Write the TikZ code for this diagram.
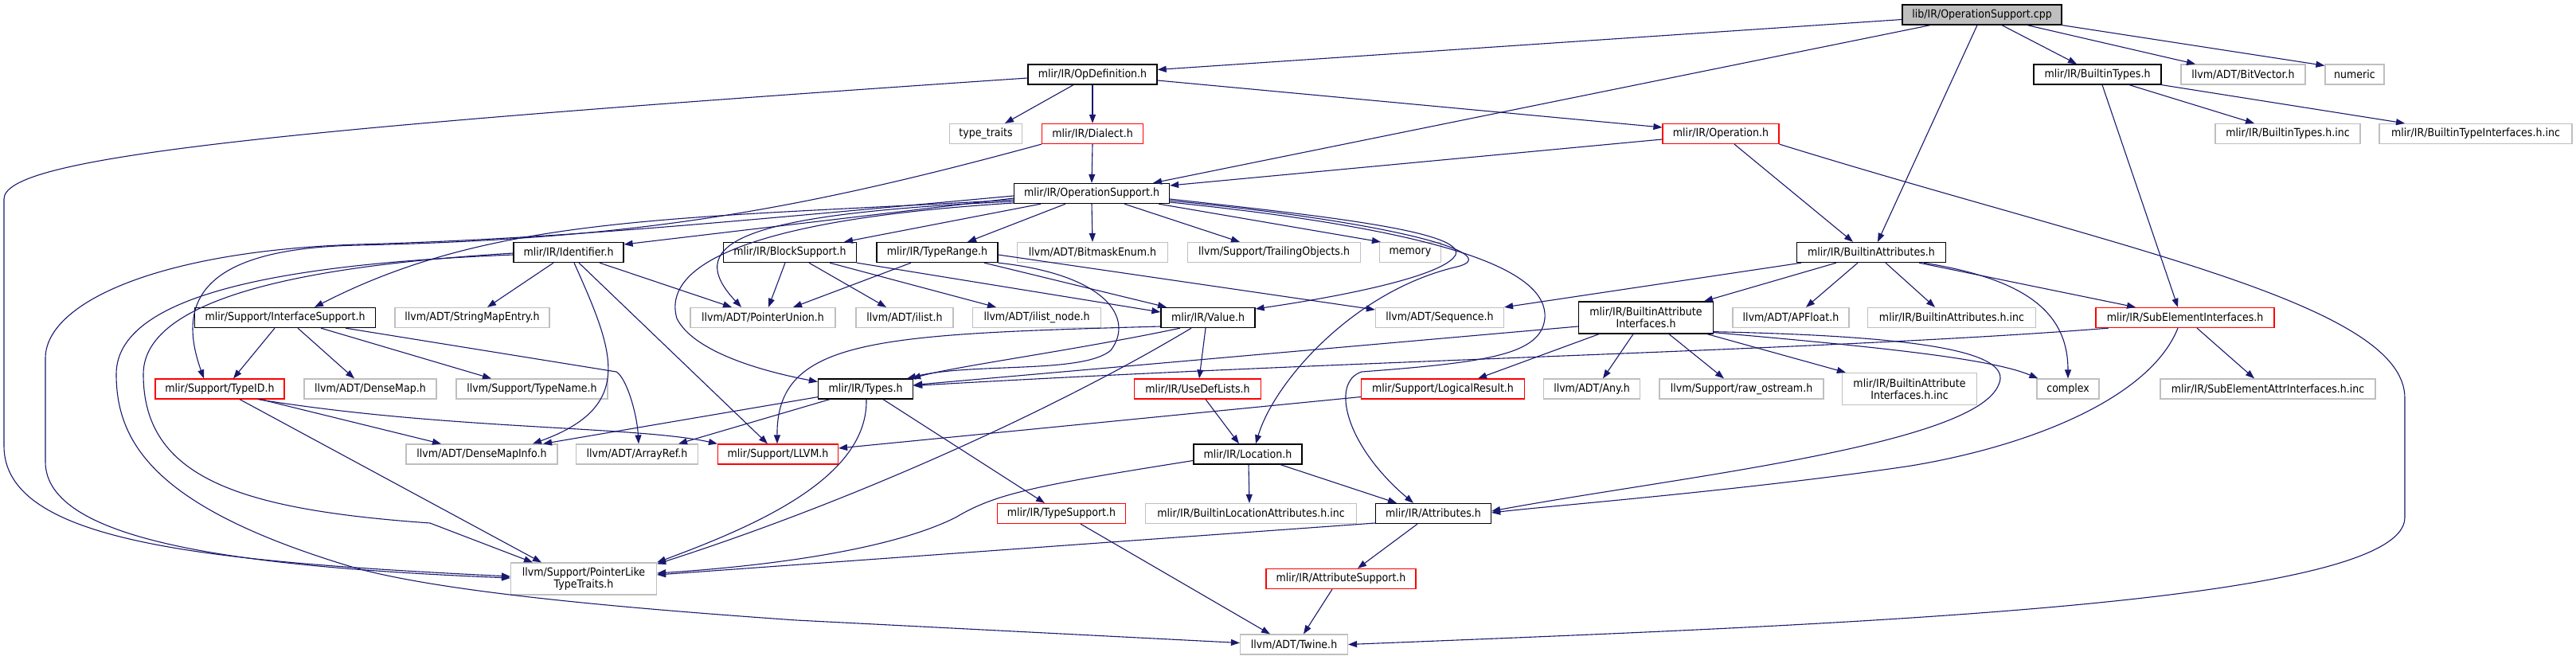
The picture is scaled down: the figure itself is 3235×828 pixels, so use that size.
\documentclass[tikz,border=0pt]{standalone}
\usepackage{fontspec}
\usetikzlibrary{arrows.meta}
\newfontfamily\gfont[FakeStretch=0.9]{DejaVu Sans}
\definecolor{edgec}{HTML}{191970}
\definecolor{gborder}{HTML}{BFBFBF}
\definecolor{rootfill}{HTML}{BFBFBF}
\tikzset{
  nb/.style={draw=black, line width=1.3pt, fill=white, inner sep=0pt, minimum height=25pt, align=center, font={\gfont\fontsize{14}{15}\selectfont}},
  ng/.style={nb, draw=gborder, line width=1.2pt},
  nr/.style={nb, draw=red, line width=1.2pt},
  dep/.style={draw=edgec, line width=1.1pt, -{Triangle[length=11pt,width=8pt]}}
}
\begin{document}
\begin{tikzpicture}[x=1pt,y=-1pt]
\fill[white] (0,0) rectangle (3235,828);
\useasboundingbox (0,0) rectangle (3235,828);
% row 0
\node[nb,fill=rootfill,minimum width=200pt] (cpp) at (2489,18.5) {lib/IR/OperationSupport.cpp};
% row 1
\node[nb,minimum width=162pt] (opdef) at (1372,93.5) {mlir/IR/OpDefinition.h};
\node[nb,minimum width=160pt] (builtintypes) at (2634,93.5) {mlir/IR/BuiltinTypes.h};
\node[ng,minimum width=156pt] (bitvector) at (2817,93.5) {llvm/ADT/BitVector.h};
\node[ng,minimum width=74pt] (numeric) at (2957,93.5) {numeric};
% row 2
\node[ng,minimum width=91pt] (typetraits) at (1238,168) {type\_traits};
\node[nr,minimum width=127pt] (dialect) at (1372,168) {mlir/IR/Dialect.h};
\node[nr,minimum width=146pt] (operation) at (2161,168) {mlir/IR/Operation.h};
\node[ng,minimum width=182pt] (btinc) at (2873,168) {mlir/IR/BuiltinTypes.h.inc};
\node[ng,minimum width=242pt] (btiinc) at (3109,168) {mlir/IR/BuiltinTypeInterfaces.h.inc};
% row 3
\node[nb,minimum width=195pt] (opsupport) at (1371,243) {mlir/IR/OperationSupport.h};
% row 4
\node[nb,minimum width=138pt] (identifier) at (714,317) {mlir/IR/Identifier.h};
\node[nb,minimum width=167pt] (blocksupport) at (992,317) {mlir/IR/BlockSupport.h};
\node[nb,minimum width=152pt] (typerange) at (1177,317) {mlir/IR/TypeRange.h};
\node[ng,minimum width=189pt] (bitmask) at (1372,317) {llvm/ADT/BitmaskEnum.h};
\node[ng,minimum width=217pt] (trailing) at (1600,317) {llvm/Support/TrailingObjects.h};
\node[ng,minimum width=77pt] (memory) at (1771,317) {memory};
\node[nb,minimum width=187pt] (builtinattrs) at (2350,317) {mlir/IR/BuiltinAttributes.h};
% row 5
\node[nb,minimum width=227pt] (ifacesupport) at (358,399) {mlir/Support/InterfaceSupport.h};
\node[ng,minimum width=194pt] (stringmap) at (593,399) {llvm/ADT/StringMapEntry.h};
\node[ng,minimum width=182pt] (ptrunion) at (958,399) {llvm/ADT/PointerUnion.h};
\node[ng,minimum width=122pt] (ilist) at (1136,399) {llvm/ADT/ilist.h};
\node[ng,minimum width=161pt] (ilistnode) at (1302,399) {llvm/ADT/ilist\_node.h};
\node[nb,minimum width=118pt] (value) at (1517,399) {mlir/IR/Value.h};
\node[ng,minimum width=161pt] (sequence) at (1808,399) {llvm/ADT/Sequence.h};
\node[nb,minimum width=169pt,minimum height=40pt] (baif) at (2067,399) {mlir/IR/BuiltinAttribute\\Interfaces.h};
\node[ng,minimum width=146pt] (apfloat) at (2249,399) {llvm/ADT/APFloat.h};
\node[ng,minimum width=211pt] (bainc) at (2451,399) {mlir/IR/BuiltinAttributes.h.inc};
\node[nr,minimum width=224pt] (subelem) at (2744,399) {mlir/IR/SubElementInterfaces.h};
% row 6
\node[nr,minimum width=162pt] (typeid) at (276,488.5) {mlir/Support/TypeID.h};
\node[ng,minimum width=166pt] (densemap) at (465,488.5) {llvm/ADT/DenseMap.h};
\node[ng,minimum width=190pt] (typename) at (668,488.5) {llvm/Support/TypeName.h};
\node[nb,minimum width=119pt] (types) at (1087,488.5) {mlir/IR/Types.h};
\node[nr,minimum width=159pt] (usedef) at (1504,488.5) {mlir/IR/UseDefLists.h};
\node[nr,minimum width=205pt] (logical) at (1812,488.5) {mlir/Support/LogicalResult.h};
\node[ng,minimum width=121pt] (any) at (1999,488.5) {llvm/ADT/Any.h};
\node[ng,minimum width=206pt] (rawos) at (2187,488.5) {llvm/Support/raw\_ostream.h};
\node[ng,minimum width=169pt,minimum height=40pt] (baifinc) at (2398,488.5) {mlir/IR/BuiltinAttribute\\Interfaces.h.inc};
\node[ng,minimum width=78pt] (complex) at (2597,488.5) {complex};
\node[ng,minimum width=270pt] (seaiinc) at (2848,488.5) {mlir/IR/SubElementAttrInterfaces.h.inc};
% row 7
\node[ng,minimum width=190pt] (densemapinfo) at (605,570.5) {llvm/ADT/DenseMapInfo.h};
\node[ng,minimum width=153pt] (arrayref) at (800,570.5) {llvm/ADT/ArrayRef.h};
\node[nr,minimum width=151pt] (llvm) at (977,570.5) {mlir/Support/LLVM.h};
\node[nb,minimum width=136pt] (location) at (1567,570.5) {mlir/IR/Location.h};
% row 8
\node[nr,minimum width=161pt] (typesupport) at (1333,645) {mlir/IR/TypeSupport.h};
\node[ng,minimum width=265pt] (blainc) at (1571,645) {mlir/IR/BuiltinLocationAttributes.h.inc};
\node[nb,minimum width=145pt] (attributes) at (1800,645) {mlir/IR/Attributes.h};
% row 9
\node[ng,minimum width=183pt,minimum height=40pt] (ptrlike) at (733,727) {llvm/Support/PointerLike\\TypeTraits.h};
\node[nr,minimum width=188pt] (attrsupport) at (1684,727) {mlir/IR/AttributeSupport.h};
% row 10
\node[ng,minimum width=135pt] (twine) at (1625,809.5) {llvm/ADT/Twine.h};

% ---- edges ----
% from cpp
\draw[dep] ([yshift=-6pt]cpp.west) -- ([yshift=6pt]opdef.east);
\draw[dep] ([xshift=-65pt]cpp.south) -- ([xshift=77pt]opsupport.north);
\draw[dep] ([xshift=-6pt]cpp.south) -- ([xshift=8pt]builtinattrs.north);
\draw[dep] ([xshift=25pt]cpp.south) -- ([xshift=-26pt]builtintypes.north);
\draw[dep] ([xshift=57pt]cpp.south) -- ([xshift=-60pt]bitvector.north);
\draw[dep] (cpp.south east) -- ([yshift=-2pt]numeric.north west);
% from OpDefinition
\draw[dep] ([xshift=-24pt]opdef.south) -- ([xshift=24pt]typetraits.north);
\draw[dep] (opdef.south) -- (dialect.north);
\draw[dep] ([yshift=-7.5pt]opdef.east) -- ([yshift=8pt]operation.west);
\draw[dep] ([yshift=-4.5pt]opdef.west) .. controls (300,165) and (5,200) .. (5,250) -- (5,560) .. controls (5,680) and (250,705) .. ([yshift=3pt]ptrlike.west);
% from Dialect
\draw[dep] (dialect.south) -- (opsupport.north);
\draw[dep] (dialect.south west) .. controls (1000,265) and (800,300) .. (450,308) .. controls (250,312) and (222,380) .. ([xshift=-20pt]typeid.north);
% from OperationSupport
\draw[dep] ([yshift=-6pt]opsupport.west) -- ([yshift=10pt]identifier.east);
\draw[dep] ([yshift=-8pt]opsupport.west) .. controls (850,275) and (620,270) .. ([xshift=37pt]ifacesupport.north);
\draw[dep] ([yshift=-10pt]opsupport.west) .. controls (950,268) and (850,300) .. ([xshift=-27pt]ptrunion.north);
\draw[dep] ([yshift=-12pt]opsupport.west) .. controls (950,275) and (830,330) .. (850,400) .. controls (870,440) and (950,465) .. ([yshift=9pt]types.west);
\draw[dep] ([yshift=-3pt]opsupport.west) .. controls (900,280) and (700,300) .. (450,307) .. controls (200,315) and (57,380) .. (57,450) -- (57,580) .. controls (57,680) and (300,712) .. ([yshift=1pt]ptrlike.west);
\draw[dep] ([xshift=-64pt]opsupport.south) -- ([xshift=68pt]blocksupport.north);
\draw[dep] ([xshift=-33pt]opsupport.south) -- ([xshift=38pt]typerange.north);
\draw[dep] (opsupport.south) -- (bitmask.north);
\draw[dep] ([xshift=41pt]opsupport.south) -- ([xshift=-43pt]trailing.north);
\draw[dep] ([xshift=84pt]opsupport.south) -- ([xshift=2pt]memory.north west);
\draw[dep] ([yshift=-7pt]opsupport.east) .. controls (1650,270) and (1840,290) .. (1828,320) .. controls (1815,345) and (1700,370) .. ([yshift=11pt]value.east);
\draw[dep] ([yshift=-9pt]opsupport.east) .. controls (1760,280) and (1890,320) .. (1830,335) .. controls (1700,365) and (1600,480) .. ([xshift=10pt]location.north);
\draw[dep] ([yshift=-11pt]opsupport.east) .. controls (1820,290) and (1945,340) .. (1940,400) .. controls (1935,445) and (1870,455) .. (1710,467) .. controls (1670,480) and (1690,560) .. ([xshift=-25pt]attributes.north);
% from Operation
\draw[dep] ([yshift=-7pt]operation.west) -- ([yshift=10pt]opsupport.east);
\draw[dep] ([xshift=17pt]operation.south) -- ([xshift=-23pt]builtinattrs.north);
\draw[dep] (operation.south east) .. controls (2650,310) and (3020,380) .. (3020,500) -- (3020,650) .. controls (3020,760) and (2300,785) .. (twine.east);
% from BuiltinTypes
\draw[dep] ([xshift=40pt]builtintypes.south) -- ([xshift=-42pt]btinc.north);
\draw[dep] (builtintypes.south east) -- ([xshift=-89pt]btiinc.north);
\draw[dep] ([xshift=6pt]builtintypes.south) -- ([xshift=-9pt]subelem.north);
% from BuiltinAttributes
\draw[dep] ([xshift=-88pt]builtinattrs.south) -- (sequence.north east);
\draw[dep] ([xshift=-44pt]builtinattrs.south) -- ([xshift=73pt]baif.north);
\draw[dep] ([xshift=-17pt]builtinattrs.south) -- ([xshift=19pt]apfloat.north);
\draw[dep] ([xshift=18pt]builtinattrs.south) -- ([xshift=-21pt]bainc.north);
\draw[dep] ([xshift=60pt]builtinattrs.south) -- ([xshift=-62pt]subelem.north);
\draw[dep] ([xshift=66pt]builtinattrs.south) .. controls (2540,350) and (2597,390) .. (complex.north);
% from BuiltinAttributeInterfaces
\draw[dep] ([yshift=-11pt]baif.west) -- ([yshift=5pt]types.east);
\draw[dep] ([xshift=-59pt]baif.south) -- ([xshift=44pt]logical.north);
\draw[dep] ([xshift=-16pt]baif.south) -- ([xshift=14pt]any.north);
\draw[dep] ([xshift=29pt]baif.south) -- ([xshift=-22pt]rawos.north);
\draw[dep] ([xshift=77pt]baif.south) -- ([xshift=5pt]baifinc.north west);
\draw[dep] ([yshift=2pt]baif.south east) .. controls (2350,435) and (2500,450) .. ([xshift=2pt]complex.north west);
\draw[dep] ([yshift=3pt]baif.south east) .. controls (2400,422) and (2530,440) .. (2510,483) .. controls (2480,560) and (2100,600) .. ([yshift=3pt]attributes.east);
% from SubElementInterfaces
\draw[dep] ([xshift=-96pt]subelem.south) .. controls (2300,440) and (1700,452) .. ([yshift=4pt]types.east);
\draw[dep] ([xshift=-9pt]subelem.south) .. controls (2700,500) and (2550,560) .. (2400,585) .. controls (2200,615) and (1950,635) .. ([yshift=1pt]attributes.east);
\draw[dep] ([xshift=15pt]subelem.south) -- ([xshift=-17pt]seaiinc.north);
% from InterfaceSupport
\draw[dep] ([xshift=-13pt]ifacesupport.south) -- ([xshift=17pt]typeid.north);
\draw[dep] ([xshift=16pt]ifacesupport.south) -- ([xshift=-20pt]densemap.north);
\draw[dep] ([xshift=45pt]ifacesupport.south) -- ([xshift=-51pt]typename.north);
\draw[dep] ([xshift=76pt]ifacesupport.south) -- (774,467) .. controls (787,475) and (800,520) .. ([xshift=2pt]arrayref.north);
% from Identifier
\draw[dep] ([xshift=-19pt]identifier.south) -- ([xshift=19pt]stringmap.north);
\draw[dep] ([xshift=39pt]identifier.south) -- ([xshift=-39pt]ptrunion.north);
\draw[dep] ([xshift=7pt]identifier.south) .. controls (770,440) and (800,510) .. ([xshift=64pt]densemapinfo.north);
\draw[dep] ([xshift=13pt]identifier.south) -- ([xshift=-13pt]llvm.north);
\draw[dep] ([yshift=-1pt]identifier.west) .. controls (450,330) and (180,360) .. (180,470) .. controls (180,600) and (300,640) .. (540,657) -- ([xshift=-64pt]ptrlike.north);
\draw[dep] ([yshift=-3pt]identifier.west) .. controls (400,330) and (146,360) .. (146,470) .. controls (146,560) and (200,640) .. (445,713) .. controls (560,745) and (800,765) .. (1000,779) -- ([yshift=2pt]twine.west);
% from TypeID
\draw[dep] ([xshift=51pt]typeid.south) -- ([xshift=-51pt]densemapinfo.north);
\draw[dep] ([xshift=48pt]typeid.south) .. controls (560,540) and (800,535) .. (llvm.north west);
\draw[dep] ([xshift=25pt]typeid.south) -- ([xshift=-53pt]ptrlike.north);
% from Types
\draw[dep] ([yshift=3pt]types.south west) -- ([xshift=77pt]densemapinfo.north);
\draw[dep] ([xshift=-45pt]types.south) -- ([xshift=52pt]arrayref.north);
\draw[dep] ([xshift=1pt]types.south) .. controls (1090,600) and (950,660) .. (ptrlike.north east);
\draw[dep] ([xshift=22pt]types.south) -- ([xshift=-21pt]typesupport.north);
% from TypeRange
\draw[dep] (typerange.south east) .. controls (1390,345) and (1425,400) .. (1395,440) .. controls (1360,470) and (1220,455) .. ([xshift=-8pt]types.north east);
\draw[dep] ([xshift=-33pt]typerange.south) -- ([xshift=38pt]ptrunion.north);
\draw[dep] ([xshift=59pt]typerange.south) -- ([xshift=-52pt]value.north);
\draw[dep] ([yshift=-3pt]typerange.east) -- ([yshift=10pt]sequence.west);
% from BlockSupport
\draw[dep] ([xshift=-6pt]blocksupport.south) -- ([xshift=7pt]ptrunion.north);
\draw[dep] ([xshift=24pt]blocksupport.south) -- ([xshift=-23pt]ilist.north);
\draw[dep] ([xshift=50pt]blocksupport.south) -- ([xshift=-51pt]ilistnode.north);
\draw[dep] (blocksupport.south east) -- ([yshift=7pt]value.west);
% from Value
\draw[dep] ([xshift=-35pt]value.south) .. controls (1350,440) and (1200,460) .. ([xshift=-2pt]types.north east);
\draw[dep] ([xshift=-3pt]value.south) -- ([xshift=2pt]usedef.north);
\draw[dep] ([yshift=-11pt]value.west) .. controls (1100,420) and (975,425) .. ([xshift=-1pt]llvm.north);
\draw[dep] ([xshift=-21pt]value.south) .. controls (1350,500) and (1100,620) .. ([yshift=-2pt]ptrlike.north east);
% others
\draw[dep] ([xshift=10pt]usedef.south) -- ([xshift=-11pt]location.north);
\draw[dep] ([xshift=41pt]location.south) -- ([xshift=-46pt]attributes.north);
\draw[dep] ([xshift=1pt]location.south) -- ([xshift=-2pt]blainc.north);
\draw[dep] ([yshift=-8pt]location.west) .. controls (1300,610) and (1250,620) .. (1200,650) .. controls (1100,700) and (900,715) .. ([yshift=7pt]ptrlike.east);
\draw[dep] ([xshift=-20pt]attributes.south) -- ([xshift=21pt]attrsupport.north);
\draw[dep] ([yshift=-12pt]attributes.west) -- ([yshift=5pt]ptrlike.east);
\draw[dep] ([xshift=-11pt]attrsupport.south) -- ([xshift=12pt]twine.north);
\draw[dep] ([xshift=24pt]typesupport.south) -- ([xshift=-30pt]twine.north);
\draw[dep] ([yshift=-10pt]logical.west) -- ([yshift=7.5pt]llvm.east);
\end{tikzpicture}
\end{document}
